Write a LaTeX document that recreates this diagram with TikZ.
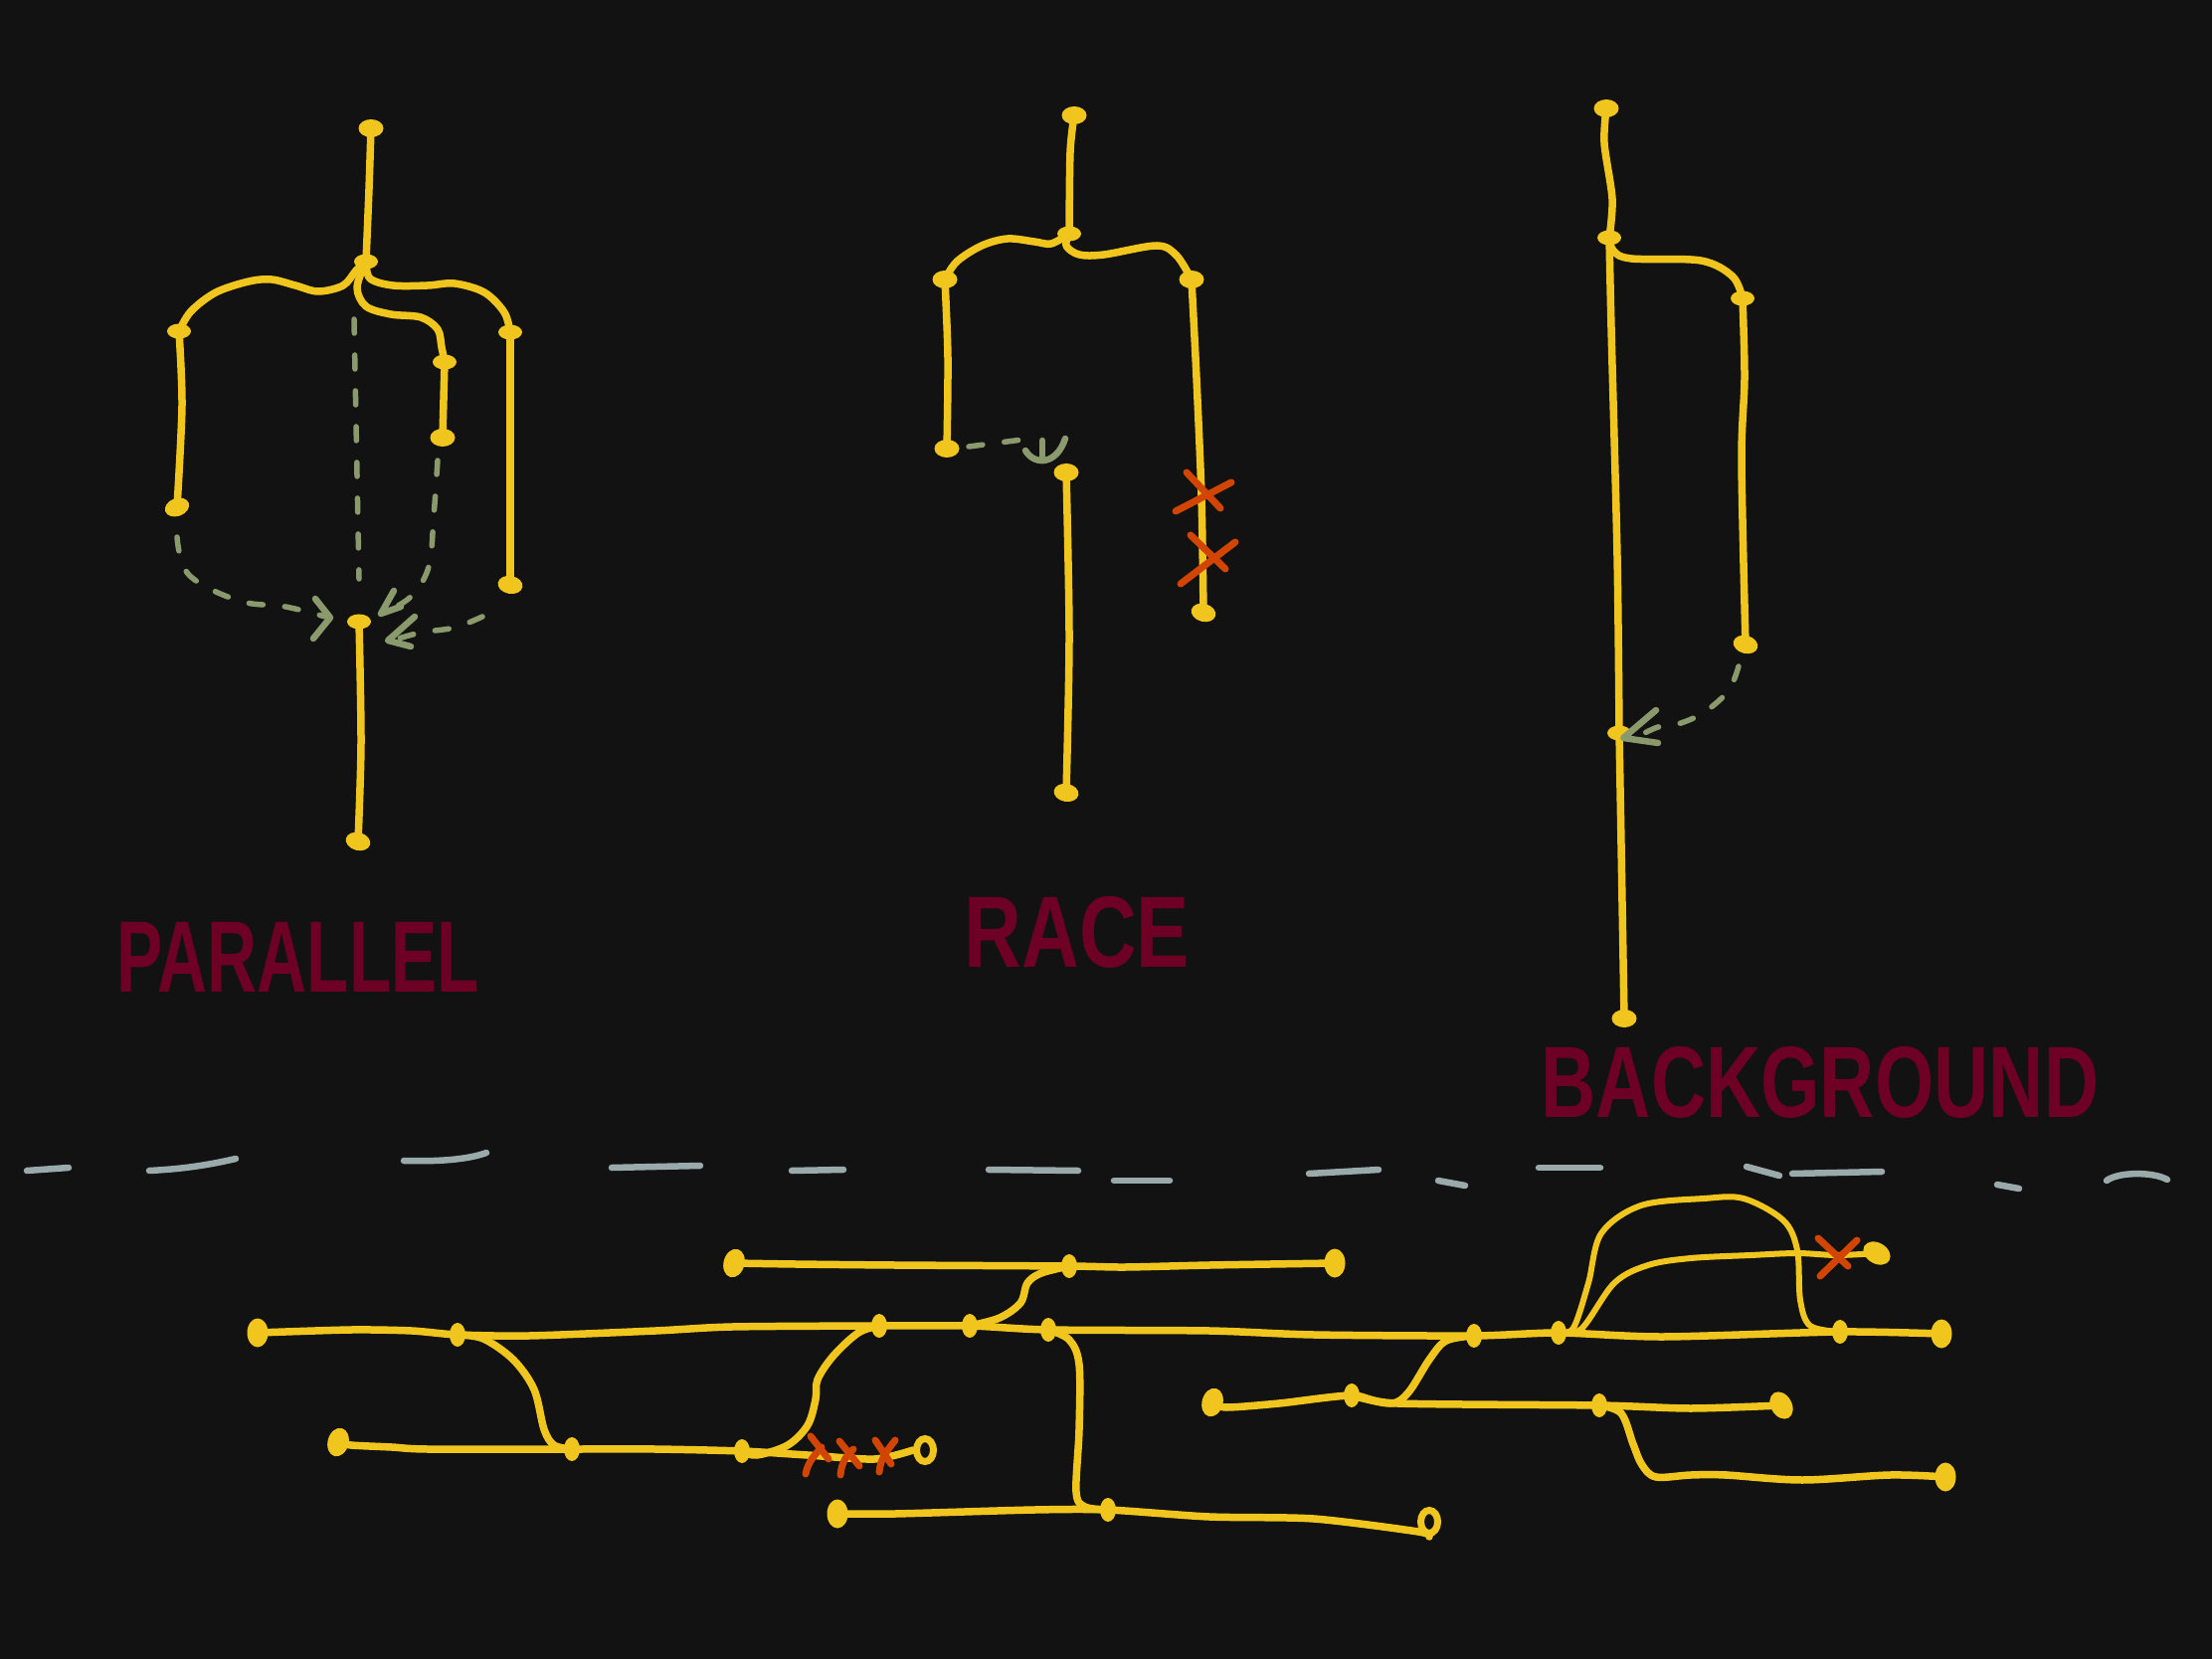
\documentclass[tikz,border=0pt]{standalone}
\usepackage{fontspec}
\setmainfont{Liberation Sans}
\usetikzlibrary{shapes.geometric}
\definecolor{bgc}{HTML}{121212}
\definecolor{yel}{HTML}{F0C61E}
\definecolor{grn}{HTML}{8A9A6C}
\definecolor{redx}{HTML}{D24500}
\definecolor{lbl}{HTML}{6E0026}
\definecolor{sepc}{HTML}{9AAAAB}
\begin{document}
\begin{tikzpicture}[x=0.1mm,y=-0.1mm,
  wire/.style={draw=yel,line width=0.75mm,line cap=round,line join=round},
  thinwire/.style={wire,line width=0.6mm},
  enddot/.style={ellipse,fill=yel,inner sep=0,minimum width=2.5mm,minimum height=1.8mm},
  venddot/.style={ellipse,fill=yel,inner sep=0,minimum width=2.1mm,minimum height=2.9mm},
  jn/.style={ellipse,fill=yel,inner sep=0,minimum width=2.4mm,minimum height=1.5mm},
  vjn/.style={ellipse,fill=yel,inner sep=0,minimum width=1.6mm,minimum height=2.4mm},
  ring/.style={ellipse,draw=yel,line width=0.7mm,inner sep=0,minimum width=1.7mm,minimum height=2.3mm},
  flowline/.style={draw=grn,line width=0.55mm,line cap=round,dash pattern=on 1.4mm off 2.2mm},
  arrowline/.style={draw=grn,line width=0.65mm,line cap=round,line join=round},
  xmark/.style={draw=redx,line width=0.7mm,line cap=round},
  sepdash/.style={draw=sepc,line width=0.65mm,line cap=round},
  lbltext/.style={text=lbl,font=\fontsize{29}{30}\selectfont\bfseries,inner sep=0}
]
\fill[bgc] (0,0) rectangle (2224,1668);
\useasboundingbox (0,0) rectangle (2224,1668);

% ================= PARALLEL =================
\node[enddot] (p0) at (373,129) {};
\node[jn] (pf) at (368,263) {};
\node[jn] (pL) at (180,333) {};
\node[enddot,rotate=20] (pLd) at (178,510) {};
\node[jn] (pM) at (447,364) {};
\node[enddot] (pMd) at (445,440) {};
\node[jn] (pR) at (513,334) {};
\node[enddot,rotate=-10] (pRd) at (513,588) {};
\node[jn] (pB) at (361,625) {};
\node[enddot,rotate=-15] (pBd) at (360,846) {};

\draw[wire] plot[smooth,tension=0.5] coordinates {(p0.center) (371,190) (pf.center)};
\draw[wire] plot[smooth,tension=0.55] coordinates {(pf.center) (358,272) (345,287) (320,293) (297,287) (273,281) (250,283) (217,294) (192,313) (pL.center)};
\draw[wire] plot[smooth,tension=0.55] coordinates {(pf.center) (359,289) (368,308) (393,316) (423,319) (440,331) (444,349) (pM.center)};
\draw[wire] plot[smooth,tension=0.55] coordinates {(pf.center) (372,280) (395,287) (430,287) (457,285) (487,294) (507,314) (pR.center)};
\draw[wire] plot[smooth,tension=0.5] coordinates {(pL.center) (183,408) (pLd.center)};
\draw[wire] (pM.center) -- (pMd.center);
\draw[wire] (pR.center) -- (pRd.center);
\draw[wire] plot[smooth,tension=0.5] coordinates {(pB.center) (363,747) (pBd.center)};

\coordinate (pv0) at (356,321);
\coordinate (pv1) at (361,582);
\draw[flowline] (pv0) -- (pv1);
\coordinate (pl0) at (178,540);
\coordinate (pl1) at (327,620);
\draw[flowline] plot[smooth,tension=0.6] coordinates {(pl0) (190,578) (240,604) (287,610) (pl1)};
\draw[arrowline] (317,602) -- (332,621) -- (315,642);
\coordinate (pm0) at (440,463);
\coordinate (pm1) at (386,616);
\draw[flowline] plot[smooth,tension=0.6] coordinates {(pm0) (436,520) (431,570) (413,600) (pm1)};
\draw[arrowline] (396,594) -- (383,617) -- (403,610);
\coordinate (pr0) at (485,620);
\coordinate (pr1) at (394,644);
\draw[flowline] plot[smooth,tension=0.6] coordinates {(pr0) (457,631) (423,636) (pr1)};
\draw[arrowline] (417,620) -- (390,644) -- (413,650);

\node[lbltext,xscale=0.68] (lp) at (300,962) {PARALLEL};

% ================= RACE =================
\node[enddot] (r0) at (1080,116) {};
\node[jn] (rf) at (1075,235) {};
\node[enddot] (rL) at (950,281) {};
\node[enddot] (rLd) at (952,451) {};
\node[enddot] (rR) at (1198,281) {};
\node[enddot,rotate=-15] (rRd) at (1210,616) {};
\node[enddot] (rM) at (1072,475) {};
\node[enddot,rotate=-10] (rMd) at (1072,797) {};

\draw[wire] plot[smooth,tension=0.5] coordinates {(r0.center) (1076,153) (rf.center)};
\draw[wire] plot[smooth,tension=0.55] coordinates {(rf.center) (1057,245) (1040,243) (1013,240) (987,247) (962,263) (rL.center)};
\draw[wire] plot[smooth,tension=0.55] coordinates {(rf.center) (1072,247) (1085,256) (1110,256) (1163,247) (1183,257) (rR.center)};
\draw[wire] plot[smooth,tension=0.5] coordinates {(rL.center) (953,360) (rLd.center)};
\draw[wire] plot[smooth,tension=0.5] coordinates {(rR.center) (1203,380) (1208,500) (rRd.center)};
\draw[wire] plot[smooth,tension=0.5] coordinates {(rM.center) (1075,640) (rMd.center)};

\coordinate (rd0) at (974,449);
\coordinate (rd1) at (1028,442);
\draw[flowline] (rd0) -- (rd1);
\draw[arrowline] (1031,453) .. controls (1040,468) and (1062,468) .. (1071,441);
\draw[arrowline] (1048,443) -- (1048,463);

\draw[xmark] (1193,475) -- (1227,511);
\draw[xmark] (1182,514) -- (1238,485);
\draw[xmark] (1197,538) -- (1232,572);
\draw[xmark] (1187,587) -- (1242,545);

\node[lbltext,xscale=0.785] (lr) at (1083,937) {RACE};

% ================= BACKGROUND =================
\node[enddot] (b0) at (1615,109) {};
\node[jn] (bf) at (1618,239) {};
\node[jn] (bR) at (1752,300) {};
\node[enddot,rotate=-15] (bRd) at (1755,648) {};
\node[jn] (bM) at (1628,737) {};
\node[enddot] (bMd) at (1633,1024) {};

\draw[wire] plot[smooth,tension=0.5] coordinates {(b0.center) (1613,144) (1621,200) (bf.center)};
\draw[wire] plot[smooth,tension=0.55] coordinates {(bf.center) (1622,252) (1640,260) (1710,262) (1742,278) (bR.center)};
\draw[wire] plot[smooth,tension=0.5] coordinates {(bR.center) (1754,380) (1751,463) (bRd.center)};
\draw[wire] plot[smooth,tension=0.5] coordinates {(bf.center) (1620,330) (1626,560) (bM.center)};
\draw[wire] plot[smooth,tension=0.5] coordinates {(bM.center) (1630,850) (bMd.center)};

\coordinate (bd0) at (1748,670);
\coordinate (bd1) at (1648,740);
\draw[flowline] plot[smooth,tension=0.6] coordinates {(bd0) (1738,694) (1715,715) (1690,727) (1667,731) (bd1)};
\draw[arrowline] (1665,714) -- (1632,742) -- (1667,747);

\node[lbltext,xscale=0.75] (lb) at (1830,1088) {BACKGROUND};

% ================= separator =================
\draw[sepdash] (27,1177) -- (69,1174);
\draw[sepdash] (150,1177) .. controls (190,1175) and (215,1170) .. (237,1165);
\draw[sepdash] (406,1167) .. controls (440,1168) and (470,1166) .. (489,1159);
\draw[sepdash] (615,1174) -- (704,1172);
\draw[sepdash] (796,1177) -- (848,1176);
\draw[sepdash] (994,1176) -- (1084,1177);
\draw[sepdash] (1120,1187) -- (1176,1187);
\draw[sepdash] (1316,1180) -- (1386,1176);
\draw[sepdash] (1446,1187) -- (1473,1192);
\draw[sepdash] (1547,1174) -- (1609,1174);
\draw[sepdash] (1756,1173) -- (1789,1182);
\draw[sepdash] (1802,1180) -- (1892,1178);
\draw[sepdash] (2008,1191) -- (2030,1195);
\draw[sepdash] (2118,1187) .. controls (2130,1178) and (2165,1178) .. (2179,1186);

% ================= bottom network =================
% line A
\node[venddot] (aS) at (259,1340) {};
\node[vjn] (a1) at (460,1342) {};
\node[vjn] (a2) at (884,1333) {};
\node[vjn] (a3) at (975,1333) {};
\node[vjn] (a4) at (1054,1337) {};
\node[vjn] (a5) at (1482,1343) {};
\node[vjn] (a6) at (1567,1340) {};
\node[vjn] (a7) at (1850,1339) {};
\node[venddot] (aE) at (1952,1341) {};
% line B
\node[venddot,rotate=-15] (bS) at (340,1450) {};
\node[vjn] (b1) at (575,1457) {};
\node[vjn] (b2) at (746,1459) {};
\node[ring] (bE) at (930,1458) {};
% line C
\node[venddot,rotate=-15] (cS) at (738,1270) {};
\node[vjn] (c1) at (1075,1273) {};
\node[venddot] (cE) at (1342,1270) {};
% line D
\node[venddot] (dS) at (842,1522) {};
\node[vjn] (d1) at (1114,1518) {};
\node[ring] (dE) at (1437,1530) {};
% line E
\node[venddot,rotate=-15] (eS) at (1219,1410) {};
\node[vjn] (e1) at (1359,1403) {};
\node[vjn] (e2) at (1608,1413) {};
\node[venddot,rotate=30] (eE) at (1791,1413) {};
% line F
\node[inner sep=0,minimum size=0.8mm,fill=yel,ellipse] (f1) at (1735,1483) {};
\node[venddot] (fE) at (1956,1485) {};
% line G
\node[venddot,rotate=60] (gE) at (1887,1260) {};

\draw[wire] plot[smooth,tension=0.45] coordinates {(aS.center) (353,1337) (414,1338) (a1.center) (532,1343) (659,1338) (736,1334) (a2.center) (a3.center) (a4.center) (1216,1338) (1321,1342) (a5.center) (a6.center) (1672,1344) (a7.center) (aE.center)};
\draw[wire] plot[smooth,tension=0.45] coordinates {(bS.center) (353,1453) (394,1455) (430,1457) (b1.center) (659,1457) (b2.center) (812,1463) (879,1467) (bE.west)};
\draw[wire] plot[smooth,tension=0.45] coordinates {(cS.center) (800,1271) (900,1272) (c1.center) (1131,1274) (1216,1272) (cE.center)};
\draw[wire] plot[smooth,tension=0.45] coordinates {(dS.center) (900,1522) (1040,1518) (d1.center) (1216,1525) (1321,1527) (1426,1540) (dE.south)};
\draw[wire] plot[smooth,tension=0.45] coordinates {(eS.center) (1233,1415) (1286,1411) (e1.center) (1405,1411) (e2.center) (1700,1416) (eE.center)};

\draw[wire] plot[smooth,tension=0.55] coordinates {(a1.center) (486,1346) (516,1367) (537,1397) (547,1437) (557,1453) (b1.center)};
\draw[wire] plot[smooth,tension=0.55] coordinates {(b2.center) (761,1463) (792,1453) (812,1433) (820,1407) (822,1387) (838,1363) (863,1340) (a2.center)};
\draw[wire] plot[smooth,tension=0.55] coordinates {(a3.center) (1005,1325) (1026,1310) (1033,1290) (1047,1280) (c1.center)};
\draw[wire] plot[smooth,tension=0.55] coordinates {(a4.center) (1075,1347) (1085,1372) (1085,1437) (1082,1500) (1091,1515) (d1.center)};
\draw[wire] plot[smooth,tension=0.55] coordinates {(e1.center) (1398,1411) (1416,1400) (1437,1367) (1454,1348) (a5.center)};
\draw[wire] plot[smooth,tension=0.55] coordinates {(e2.center) (1630,1421) (1642,1452) (1651,1473) (1665,1485) (1700,1483) (f1.center) (1812,1488) (1900,1483) (fE.center)};
\draw[thinwire] plot[smooth,tension=0.55] coordinates {(a6.center) (1582,1335) (1597,1290) (1610,1240) (1650,1212) (1713,1205) (1753,1205) (1793,1227) (1807,1257) (1810,1307) (1820,1333) (a7.center)};
\draw[thinwire] plot[smooth,tension=0.55] coordinates {(a6.center) (1590,1336) (1623,1290) (1657,1272) (1700,1265) (1760,1262) (1807,1260) (1847,1262) (gE.center)};

\draw[xmark] (1828,1245) -- (1858,1273);
\draw[xmark] (1830,1283) -- (1867,1247);
\draw[xmark] (815,1444) -- (833,1467);
\draw[xmark] (810,1482) .. controls (812,1470) and (820,1462) .. (826,1455);
\draw[xmark] (844,1449) -- (864,1474);
\draw[xmark] (845,1483) .. controls (846,1470) and (852,1462) .. (858,1457);
\draw[xmark] (880,1448) -- (896,1472);
\draw[xmark] (884,1480) .. controls (885,1465) and (895,1455) .. (900,1448);
\end{tikzpicture}
\end{document}
